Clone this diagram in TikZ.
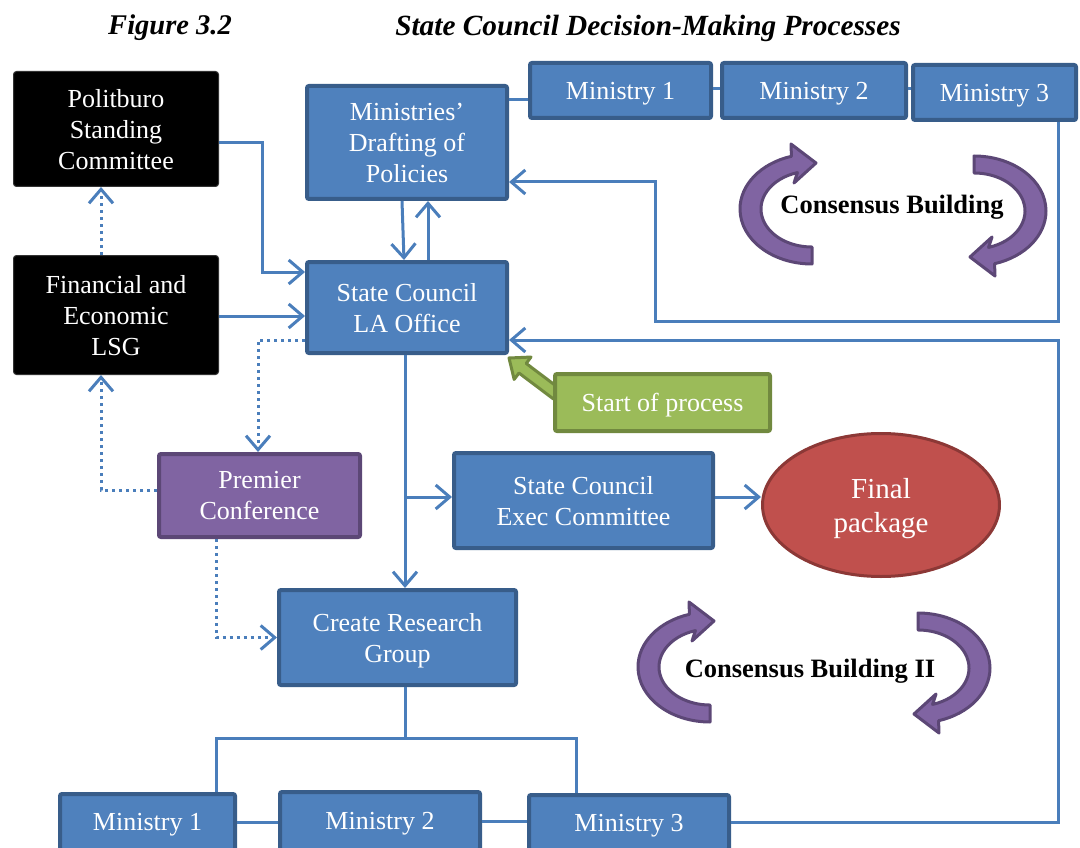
\documentclass[tikz,border=0pt]{standalone}
\usepackage{fontspec}
\setmainfont{Liberation Serif}
\usetikzlibrary{arrows.meta,shapes.geometric}
\definecolor{blueFill}{HTML}{4F81BD}
\definecolor{blueEdge}{HTML}{385D8A}
\definecolor{conn}{HTML}{4A7EBB}
\definecolor{greenFill}{HTML}{9BBB59}
\definecolor{greenEdge}{HTML}{71893F}
\definecolor{purpleFill}{HTML}{8064A2}
\definecolor{purpleEdge}{HTML}{5C4776}
\definecolor{redFill}{HTML}{C0504D}
\definecolor{redEdge}{HTML}{8C3836}
\begin{document}
\begin{tikzpicture}[x=1pt,y=1pt,
  boxtext/.style={text=white, align=center, inner sep=0pt, font=\fontsize{26}{31}\selectfont, text depth=0pt},
  multiline/.style={text depth=-6pt},
  bluebox/.style={boxtext, draw=blueEdge, fill=blueFill, line width=4pt, rounded corners=2pt},
  blackbox/.style={boxtext, draw=black!80, fill=black, line width=1pt, rounded corners=3pt},
  greenbox/.style={boxtext, draw=greenEdge, fill=greenFill, line width=4pt, rounded corners=2pt},
  purplebox/.style={boxtext, draw=purpleEdge, fill=purpleFill, line width=4pt, rounded corners=2pt},
  redellipse/.style={text=white, align=center, inner sep=0pt, ellipse, draw=redEdge, fill=redFill,
    line width=3pt, font=\fontsize{29}{34}\selectfont, text depth=-5pt},
  titletext/.style={inner sep=0pt, font=\fontsize{28.5}{32}\selectfont\bfseries\itshape},
  cbtext/.style={inner sep=0pt, font=\fontsize{26.5}{30}\selectfont\bfseries},
  link/.style={line width=3pt, draw=conn},
  arr/.style={link, -{Straight Barb[length=14pt,width=24pt]}},
  dotarr/.style={arr, dash pattern=on 3pt off 4pt},
  blockarrow/.style={fill=greenFill, draw=greenEdge, line width=3pt, line join=round},
  cbstyle/.style={fill=purpleFill, draw=purpleEdge, line width=3pt, line join=round},
  cbarrow/.pic={
    \draw[cbstyle] (0,-55) arc[start angle=270, end angle=106.6, x radius=72pt, y radius=55pt]
      -- (-21,65) -- (4,46) -- (-18,26) -- (-14.57,36.4)
      arc[start angle=106.6, end angle=270, x radius=51pt, y radius=38pt] -- cycle;
  }
]
\useasboundingbox (0,0) rectangle (1080,-848);
\clip (0,0) rectangle (1080,-848);

% titles
\node[titletext] (figno) at (170,-28) {Figure 3.2};
\node[titletext, font=\fontsize{29.3}{32}\selectfont\bfseries\itshape] (figtitle) at (648,-28) {State Council Decision-Making Processes};

% left column
\node[blackbox, text depth=-10pt, minimum width=205pt, minimum height=115pt] (pol) at (116,-129) {Politburo\\Standing\\Committee};
\node[blackbox, multiline, minimum width=205pt, minimum height=119pt] (fin) at (116,-315) {Financial and\\Economic\\LSG};

% drafting and legal affairs office
\node[bluebox, text depth=-10pt, minimum width=200pt, minimum height=113pt] (draft) at (407,-142.5) {Ministries’\\Drafting of\\Policies};
\node[bluebox, multiline, minimum width=200pt, minimum height=91pt] (la) at (407,-307.5) {State Council\\LA Office};

% top row of ministries
\node[bluebox, minimum width=181pt, minimum height=55pt] (m1t) at (620.5,-90.5) {Ministry 1};
\node[bluebox, minimum width=184pt, minimum height=55pt] (m2t) at (814,-90.5) {Ministry 2};
\node[bluebox, minimum width=163pt, minimum height=55pt] (m3t) at (994.5,-92.5) {Ministry 3};

% start marker: block arrow pointing at the office
\begin{scope}[shift={([shift={(0,-3)}]la.south east)}, rotate=143]
  \draw[blockarrow] (0,0) -- (-17,14) -- (-17,6) -- (-60,6) -- (-60,-6) -- (-17,-6) -- (-17,-14) -- cycle;
\end{scope}
\node[greenbox, minimum width=215pt, minimum height=57pt] (start) at (662.5,-402.5) {Start of process};

% middle
\node[purplebox, multiline, minimum width=201pt, minimum height=83pt] (prem) at (259.5,-495.5) {Premier\\Conference};
\node[bluebox, multiline, minimum width=259pt, minimum height=95pt] (exec) at (583.5,-500.5) {State Council\\Exec Committee};
\node[redellipse, minimum width=237pt, minimum height=143pt] (final) at (881,-505) {Final\\package};
\node[bluebox, text depth=-5pt, minimum width=237pt, minimum height=95pt] (rg) at (397.5,-637.5) {Create Research\\Group};

% bottom row of ministries
\node[bluebox, minimum width=175pt, minimum height=56pt] (m1b) at (147.5,-822) {Ministry 1};
\node[bluebox, minimum width=200pt, minimum height=58pt] (m2b) at (380,-821) {Ministry 2};
\node[bluebox, minimum width=200pt, minimum height=55pt] (m3b) at (629,-822.5) {Ministry 3};

% consensus building cycles
\pic at (812,-209) {cbarrow};
\pic[rotate=180] at (974,-211) {cbarrow};
\node[cbtext] (cb1) at (892,-207) {Consensus Building};
\pic at (710,-667) {cbarrow};
\pic[rotate=180] at (918,-668) {cbarrow};
\node[cbtext] (cb2) at (810,-671) {Consensus Building II};

% junction points
\coordinate (loopA) at (655,-321);
\coordinate (spine) at (405,-497);
\coordinate (bus) at (405,-738);

% connectors
\draw[arr] ([yshift=-14pt]pol.east) -- ++(43,0) |- ([yshift=35.5pt]la.west);
\draw[arr] ([yshift=-1pt]fin.east) -- ([yshift=-1pt]fin.east -| la.west);
\draw[dotarr] ([xshift=-15pt]fin.north) -- ([xshift=-15pt]pol.south);
\draw[arr] ([xshift=-5pt]draft.south) -- ([xshift=-3pt]la.north);
\draw[arr] ([xshift=21pt]la.north) -- ([xshift=21pt]draft.south);
\draw[link] ([yshift=42.5pt]draft.east) -- ([yshift=42.5pt]draft.east -| m1t.west);
\draw[link] ([yshift=1.5pt]m1t.east) -- ([yshift=1.5pt]m1t.east -| m2t.west);
\draw[link] ([yshift=1.5pt]m2t.east) -- ([yshift=1.5pt]m2t.east -| m3t.west);
\draw[arr] ([xshift=63.5pt]m3t.south) |- (loopA) |- ([yshift=-39.5pt]draft.east);
\draw[arr] (m3b.east) -- ++(327,0) |- ([yshift=-32.5pt]la.east);
\draw[arr] ([xshift=-2pt]la.south) -- ([xshift=-2pt]la.south |- rg.north);
\draw[arr] (spine) -- (spine -| exec.west);
\draw[arr] (spine -| exec.east) -- (spine -| final.west);
\draw[dotarr] ([yshift=-32.5pt]la.west) -| ([xshift=-1.5pt]prem.north);
\draw[dotarr] ([yshift=5.5pt]prem.west) -| ([xshift=-15pt]fin.south);
\draw[dotarr] ([xshift=-43.5pt]prem.south) |- (rg.west);
\draw[link] ([xshift=7.5pt]rg.south) -- (bus);
\draw[link] ([xshift=68.5pt]m1b.north) |- (bus) -| ([xshift=-53pt]m3b.north);
\draw[link] (m1b.east) -- (m1b.east -| m2b.west);
\draw[link] (m2b.east) -- (m2b.east -| m3b.west);
\end{tikzpicture}
\end{document}
